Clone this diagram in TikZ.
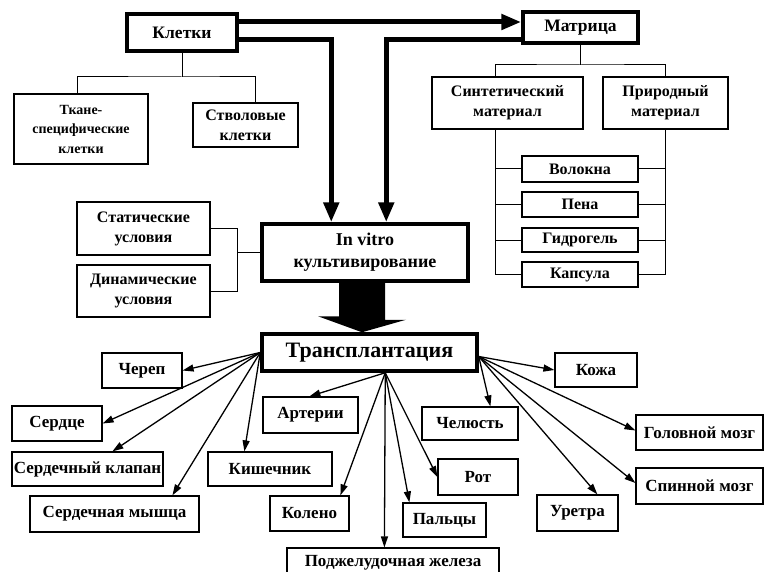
\documentclass[tikz,border=0pt]{standalone}
\usepackage{fontspec}
\setmainfont{Liberation Serif}
\usetikzlibrary{arrows.meta}
\begin{document}
\begin{tikzpicture}[x=1pt,y=-1pt,
  every node/.style={font=\bfseries\fontsize{16}{20}\selectfont},
  box/.style={draw, line width=1.2pt, fill=white, align=center, inner sep=0pt},
  lbox/.style={box, font=\bfseries\fontsize{17}{20}\selectfont},
  tbox/.style={box, line width=3.5pt},
  link/.style={line width=1pt},
  arr/.style={line width=1.3pt, -{Triangle[length=11pt,width=7pt]}},
  bigarr/.style={line width=5pt, -{Triangle[length=20pt,width=15pt]}},
]
\useasboundingbox (0,0) rectangle (765,572);
\clip (0,0) rectangle (765,572);

% top level
\node[tbox, minimum width=110pt, minimum height=37pt, font=\bfseries\fontsize{17.5}{20}\selectfont] (kl) at (182,32.5) {Клетки};
\node[tbox, minimum width=115pt, minimum height=31pt, font=\bfseries\fontsize{17.5}{20}\selectfont] (mat) at (580.5,27.5) {Матрица};

\node[box, minimum width=134pt, minimum height=70pt, font=\bfseries\fontsize{14}{19.5}\selectfont] (tk) at (81,129) {Ткане-\\специфические\\клетки};
\node[box, minimum width=105pt, minimum height=44pt] (st) at (245.5,125) {Стволовые\\клетки};

\node[box, minimum width=151pt, minimum height=52pt] (syn) at (507.5,103) {Синтетический\\материал};
\node[box, minimum width=125pt, minimum height=52pt] (nat) at (665.5,103) {Природный\\материал};

\node[box, minimum width=116pt, minimum height=26pt] (vol) at (580,169) {Волокна};
\node[box, minimum width=116pt, minimum height=25pt] (pen) at (580,204.5) {Пена};
\node[box, minimum width=116pt, minimum height=24pt] (gid) at (580,240) {Гидрогель};
\node[box, minimum width=116pt, minimum height=25pt] (kap) at (580,274.5) {Капсула};

\node[box, minimum width=133pt, minimum height=53pt] (stat) at (143.5,228.5) {Статические\\условия};
\node[box, minimum width=133pt, minimum height=52pt] (dyn) at (143.5,291) {Динамические\\условия};

\node[tbox, minimum width=206pt, minimum height=57pt, font=\bfseries\fontsize{18}{22}\selectfont] (iv) at (365,252.5) {In vitro\\культивирование};

\node[tbox, minimum width=215pt, minimum height=37pt, font=\bfseries\fontsize{22}{24}\selectfont] (tr) at (369.5,352.5) {Трансплантация};

% bottom boxes
\node[lbox, minimum width=80pt, minimum height=35pt] (cher) at (142,370.5) {Череп};
\node[lbox, minimum width=90pt, minimum height=35pt] (serd) at (57,423.5) {Сердце};
\node[lbox, minimum width=151pt, minimum height=34pt] (klap) at (87.5,469) {Сердечный клапан};
\node[lbox, minimum width=169pt, minimum height=36pt] (mysh) at (114.5,514) {Сердечная мышца};
\node[lbox, minimum width=124pt, minimum height=34pt] (kish) at (270,469) {Кишечник};
\node[lbox, minimum width=95pt, minimum height=36pt] (art) at (310.5,415) {Артерии};
\node[lbox, minimum width=79pt, minimum height=35pt] (kol) at (309.5,513.5) {Колено};
\node[lbox, minimum width=212pt, minimum height=30pt] (podzh) at (393,563) {Поджелудочная железа};
\node[lbox, minimum width=82pt, minimum height=34pt] (koz) at (596,370) {Кожа};
\node[lbox, minimum width=96pt, minimum height=33pt] (chel) at (470,423.5) {Челюсть};
\node[lbox, minimum width=80pt, minimum height=36pt] (rot) at (478,477) {Рот};
\node[lbox, minimum width=83pt, minimum height=34pt] (pal) at (444.5,520) {Пальцы};
\node[lbox, minimum width=81pt, minimum height=36pt] (ur) at (577.5,513) {Уретра};
\node[lbox, minimum width=127pt, minimum height=35pt] (gol) at (699.5,432.5) {Головной мозг};
\node[lbox, minimum width=127pt, minimum height=36pt] (spin) at (699.5,486) {Спинной мозг};

% tree connectors
\coordinate (kj) at (182,77);
\draw[link] (kl.south) -- (kj);
\draw[link] ([xshift=-4pt]tk.north) |- (kj) -| ([xshift=9.5pt]st.north);

\coordinate (mj) at (580.5,65);
\draw[link] (mat.south) -- (mj);
\draw[link] ([xshift=-12.5pt]syn.north) |- (mj) -| (nat.north);

\coordinate (sl) at (495,0);
\coordinate (nl) at (665.5,0);
\draw[link] ([xshift=-12.5pt]syn.south) -- (sl |- kap.west);
\draw[link] (nat.south) -- (nl |- kap.east);
\foreach \b in {vol,pen,gid,kap}{
  \draw[link] (sl |- \b.west) -- (\b.west);
  \draw[link] (\b.east) -- (nl |- \b.east);
}

\coordinate (cj) at (237,0);
\draw[link] (stat.east) -| (cj |- dyn.east) -- (dyn.east);
\draw[link] (cj |- iv.west) -- (iv.west);

% thick arrows
\draw[bigarr] ([yshift=10.5pt]kl.east) -- ([yshift=10.5pt]kl.east -| mat.west);
\draw[bigarr] ([yshift=-7.5pt]kl.east) -| ([xshift=71pt]iv.north west);
\draw[bigarr] ([yshift=-12.5pt]mat.west) -| ([xshift=126pt]iv.north west);

% block arrow
\coordinate (ba) at ([xshift=-3pt]iv.south);
\coordinate (bb) at (ba |- tr.north);
\fill (ba) ++(-23,0) -- ++(46,0) -- ++(0,37) -- ++(21,0) -- (bb) -- ++(-44,-16) -- ++(21,0) -- cycle;

% fan arrows
\coordinate (fL) at (tr.west);
\coordinate (fB) at ([xshift=125pt]tr.south west);
\coordinate (fR) at ([yshift=-4pt]tr.east);

\draw[arr] (fL) -- (cher.east);
\draw[arr] (fL) -- (serd.east);
\draw[arr] (fL) -- ([xshift=101pt]klap.north west);
\draw[arr] (fL) -- ([xshift=143pt]mysh.north west);
\draw[arr] (fL) -- ([xshift=37pt]kish.north west);

\draw[arr] (fB) -- ([xshift=47pt]art.north west);
\draw[arr] (fB) -- ([xshift=71pt]kol.north west);
\draw[arr] (fB) -- ([xshift=98pt]podzh.north west);
\draw[arr] (fB) -- ([xshift=7pt]pal.north west);
\draw[arr] (fB) -- (rot.west);

\draw[arr] (fR) -- (koz.west);
\draw[arr] (fR) -- ([xshift=69pt]chel.north west);
\draw[arr] (fR) -- ([yshift=2pt]gol.west);
\draw[arr] (fR) -- ([yshift=3pt]spin.west);
\draw[arr] (fR) -- ([xshift=61pt]ur.north west);
\end{tikzpicture}
\end{document}
